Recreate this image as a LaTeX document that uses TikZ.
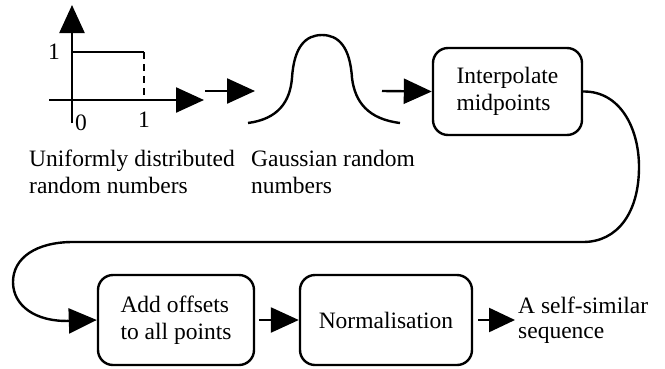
\documentclass[tikz,border=0pt]{standalone}
\usepackage{fontspec}
\setmainfont{Liberation Serif}
\usetikzlibrary{arrows.meta}
\begin{document}
\begin{tikzpicture}[x=1pt,y=-1pt,
  line width=2.4pt,
  txt/.style={font=\fontsize{23.5}{27}\selectfont, inner sep=0pt, align=left},
  box/.style={draw, rounded corners=15pt, txt},
  tip/.style={-{Triangle[length=28pt,width=25pt]}},
  smalltip/.style={-{Triangle[length=26pt,width=24pt]}},
]
\useasboundingbox (0,0) rectangle (665,368);

% axes of the uniform distribution
\coordinate (yorig) at (72,123);
\coordinate (ytop) at (72,5);
\coordinate (xorig) at (49,100);
\coordinate (xend) at (204,100);
\draw[tip] (yorig) -- (ytop);
\draw[tip] (xorig) -- (xend);
\coordinate (stepl) at (72,52);
\coordinate (stepr) at (144,52);
\coordinate (stepb) at (144,100);
\draw (stepl) -- (stepr);
\draw[dash pattern=on 7pt off 5pt] (stepr) -- (stepb);
\node[txt] (one-y) at (54,52) {1};
\node[txt] (zero) at (81,123) {0};
\node[txt] (one-x) at (144,120) {1};
\node[txt, anchor=base west] (uniform) at (28,193) {Uniformly distributed\\random numbers};

% arrow towards the gaussian
\coordinate (a1s) at (205,91);
\coordinate (a1e) at (255,91);
\draw[tip] (a1s) -- (a1e);

% gaussian bell
\coordinate (gl) at (248,123);
\coordinate (gr) at (400,123);
\coordinate (gtop) at (322,35);
\draw (gl) .. controls (278,119) and (290,102) .. (292,78)
  .. controls (294,46) and (306,35) .. (gtop)
  .. controls (338,35) and (350,46) .. (352,78)
  .. controls (355,102) and (368,119) .. (gr);
\node[txt, anchor=base west] (gauss) at (250,193) {Gaussian random\\numbers};

% process boxes
\node[box, minimum width=149, minimum height=87] (interp) at (507.5,91.5) {Interpolate\\midpoints};
\node[box, minimum width=156, minimum height=90] (add) at (176,320) {Add offsets\\to all points};
\node[box, minimum width=172, minimum height=90] (norm) at (386,320) {Normalisation};
\node[txt, anchor=base west, font=\fontsize{23.5}{25}\selectfont] (out) at (517,338) {A self-similar\\sequence};

\coordinate (a2s) at (382,91);
\draw[tip] (a2s) -- (interp.west);

% loop from the interpolation to the offsets
\coordinate (r1) at (639,167);
\coordinate (r2) at (583,242);
\coordinate (l1) at (73,242);
\coordinate (l2) at (13,282);
\draw[tip] (interp.east) .. controls (620,91) and (639,128) .. (r1)
  .. controls (639,212) and (618,242) .. (r2) -- (l1)
  .. controls (36,242) and (13,258) .. (l2)
  .. controls (13,306) and (36,322) .. (add.west);

\draw[tip, shorten <=4pt] (add.east) -- (norm.west);
\coordinate (a4e) at (515,320);
\draw[smalltip, shorten <=5pt] (norm.east) -- (a4e);
\end{tikzpicture}
\end{document}
